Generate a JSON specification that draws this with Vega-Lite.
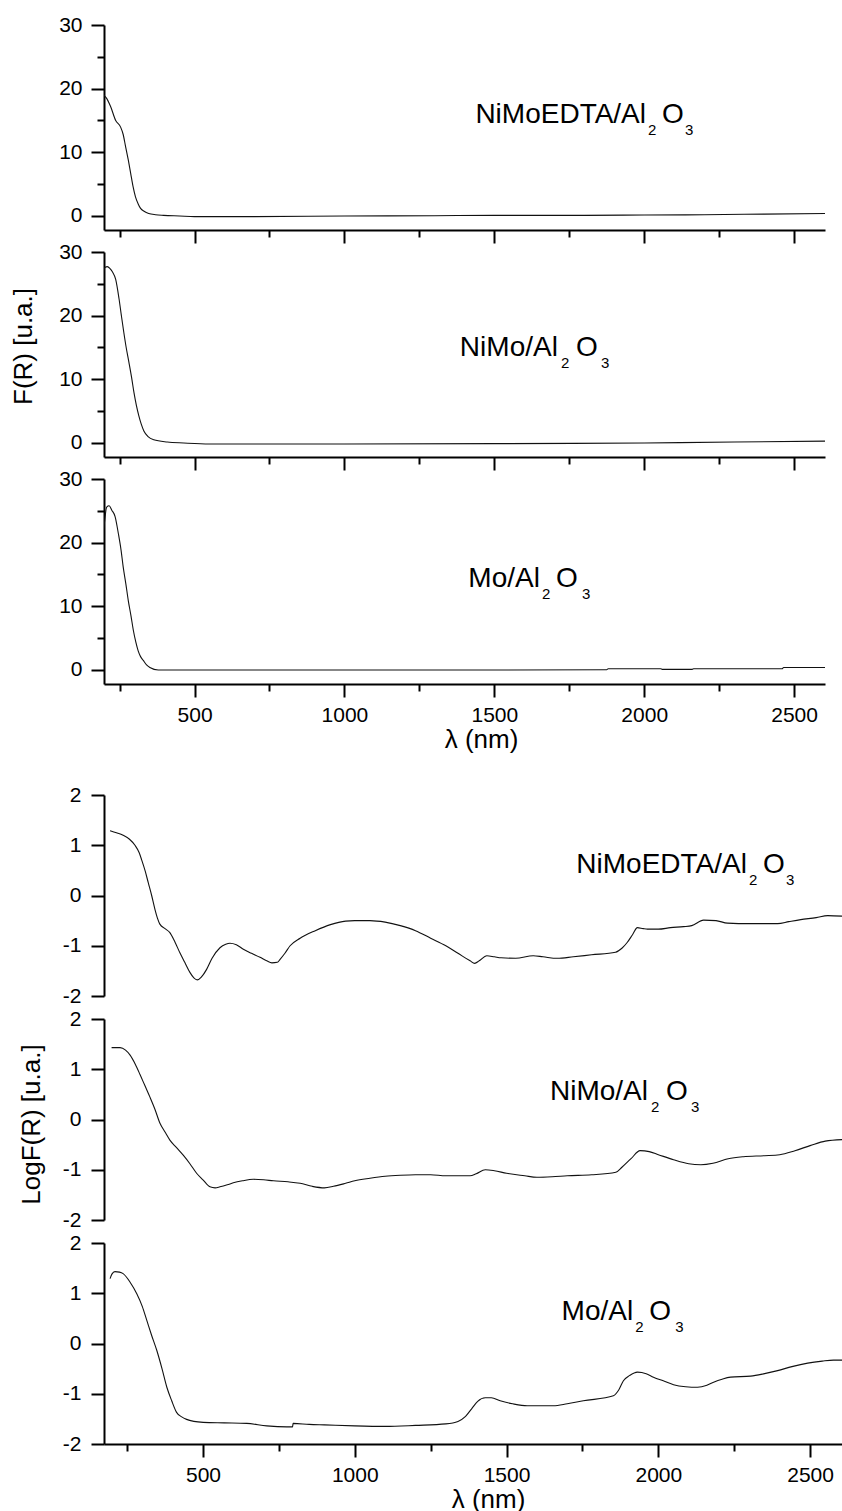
{
  "$schema": "https://vega.github.io/schema/vega-lite/v6.json",
  "padding": {"left": 10, "top": 14, "right": 0, "bottom": 0},
  "background": "white",
  "config": {
    "view": {"stroke": null},
    "axis": {
      "labelFont": "Liberation Sans", "labelFontSize": 21, "labelColor": "#000",
      "titleFont": "Liberation Sans", "titleFontSize": 26, "titleFontWeight": "normal", "titleColor": "#000",
      "domainColor": "#000", "domainWidth": 2, "tickColor": "#000", "tickWidth": 2,
      "grid": false, "labelFlush": false, "labelOverlap": false
    },
    "text": {"font": "Liberation Sans", "color": "#000"}
  },
  "datasets": {
    "fr": [
      {"s":"NiMoEDTA","wl":188,"v":18.8},{"s":"NiMoEDTA","wl":195,"v":19.0},{"s":"NiMoEDTA","wl":205,"v":18.6},{"s":"NiMoEDTA","wl":220,"v":17.2},{"s":"NiMoEDTA","wl":237,"v":15.0},{"s":"NiMoEDTA","wl":253,"v":14.0},{"s":"NiMoEDTA","wl":262,"v":12.8},{"s":"NiMoEDTA","wl":270,"v":10.9},{"s":"NiMoEDTA","wl":279,"v":8.8},{"s":"NiMoEDTA","wl":287,"v":6.7},{"s":"NiMoEDTA","wl":295,"v":4.6},{"s":"NiMoEDTA","wl":303,"v":3.0},{"s":"NiMoEDTA","wl":312,"v":1.9},{"s":"NiMoEDTA","wl":320,"v":1.2},{"s":"NiMoEDTA","wl":333,"v":0.7},{"s":"NiMoEDTA","wl":347,"v":0.4},{"s":"NiMoEDTA","wl":370,"v":0.2},{"s":"NiMoEDTA","wl":397,"v":0.1},{"s":"NiMoEDTA","wl":450,"v":0.0},{"s":"NiMoEDTA","wl":500,"v":-0.1},{"s":"NiMoEDTA","wl":700,"v":-0.1},{"s":"NiMoEDTA","wl":1000,"v":0.0},{"s":"NiMoEDTA","wl":1300,"v":0.05},{"s":"NiMoEDTA","wl":1500,"v":0.1},{"s":"NiMoEDTA","wl":1800,"v":0.1},{"s":"NiMoEDTA","wl":2000,"v":0.15},{"s":"NiMoEDTA","wl":2200,"v":0.2},{"s":"NiMoEDTA","wl":2400,"v":0.3},{"s":"NiMoEDTA","wl":2603,"v":0.4},
      {"s":"NiMo","wl":190,"v":24.6},{"s":"NiMo","wl":195,"v":26.5},{"s":"NiMo","wl":202,"v":27.6},{"s":"NiMo","wl":209,"v":27.7},{"s":"NiMo","wl":218,"v":27.4},{"s":"NiMo","wl":226,"v":26.9},{"s":"NiMo","wl":237,"v":25.7},{"s":"NiMo","wl":248,"v":22.7},{"s":"NiMo","wl":256,"v":20.0},{"s":"NiMo","wl":264,"v":17.4},{"s":"NiMo","wl":272,"v":15.0},{"s":"NiMo","wl":281,"v":12.7},{"s":"NiMo","wl":290,"v":10.3},{"s":"NiMo","wl":298,"v":7.9},{"s":"NiMo","wl":306,"v":5.9},{"s":"NiMo","wl":314,"v":4.3},{"s":"NiMo","wl":322,"v":3.0},{"s":"NiMo","wl":331,"v":1.9},{"s":"NiMo","wl":345,"v":1.0},{"s":"NiMo","wl":364,"v":0.5},{"s":"NiMo","wl":409,"v":0.15},{"s":"NiMo","wl":464,"v":0.0},{"s":"NiMo","wl":550,"v":-0.15},{"s":"NiMo","wl":1000,"v":-0.15},{"s":"NiMo","wl":1500,"v":-0.1},{"s":"NiMo","wl":2000,"v":0.0},{"s":"NiMo","wl":2300,"v":0.15},{"s":"NiMo","wl":2603,"v":0.3},
      {"s":"Mo","wl":190,"v":19.1},{"s":"Mo","wl":198,"v":22.5},{"s":"Mo","wl":207,"v":25.6},{"s":"Mo","wl":215,"v":25.8},{"s":"Mo","wl":224,"v":25.1},{"s":"Mo","wl":235,"v":24.1},{"s":"Mo","wl":246,"v":21.4},{"s":"Mo","wl":255,"v":18.8},{"s":"Mo","wl":262,"v":16.2},{"s":"Mo","wl":271,"v":13.5},{"s":"Mo","wl":279,"v":10.9},{"s":"Mo","wl":288,"v":8.5},{"s":"Mo","wl":296,"v":6.2},{"s":"Mo","wl":304,"v":4.4},{"s":"Mo","wl":312,"v":3.0},{"s":"Mo","wl":320,"v":2.1},{"s":"Mo","wl":329,"v":1.5},{"s":"Mo","wl":340,"v":0.8},{"s":"Mo","wl":351,"v":0.4},{"s":"Mo","wl":379,"v":0.0},{"s":"Mo","wl":500,"v":0.0},{"s":"Mo","wl":1000,"v":0.0},{"s":"Mo","wl":1500,"v":0.0},{"s":"Mo","wl":1875,"v":0.05},{"s":"Mo","wl":1880,"v":0.2},{"s":"Mo","wl":2055,"v":0.2},{"s":"Mo","wl":2060,"v":0.1},{"s":"Mo","wl":2160,"v":0.1},{"s":"Mo","wl":2165,"v":0.2},{"s":"Mo","wl":2460,"v":0.2},{"s":"Mo","wl":2465,"v":0.4},{"s":"Mo","wl":2603,"v":0.4}
    ],
    "lg": [
      {"s":"NiMoEDTA","wl":194,"v":1.29},{"s":"NiMoEDTA","wl":215,"v":1.25},{"s":"NiMoEDTA","wl":237,"v":1.2},{"s":"NiMoEDTA","wl":258,"v":1.12},{"s":"NiMoEDTA","wl":276,"v":1.0},{"s":"NiMoEDTA","wl":290,"v":0.85},{"s":"NiMoEDTA","wl":298,"v":0.71},{"s":"NiMoEDTA","wl":310,"v":0.48},{"s":"NiMoEDTA","wl":320,"v":0.25},{"s":"NiMoEDTA","wl":331,"v":0.0},{"s":"NiMoEDTA","wl":342,"v":-0.28},{"s":"NiMoEDTA","wl":350,"v":-0.45},{"s":"NiMoEDTA","wl":358,"v":-0.57},{"s":"NiMoEDTA","wl":375,"v":-0.66},{"s":"NiMoEDTA","wl":391,"v":-0.74},{"s":"NiMoEDTA","wl":408,"v":-0.93},{"s":"NiMoEDTA","wl":424,"v":-1.14},{"s":"NiMoEDTA","wl":440,"v":-1.33},{"s":"NiMoEDTA","wl":457,"v":-1.53},{"s":"NiMoEDTA","wl":470,"v":-1.64},{"s":"NiMoEDTA","wl":481,"v":-1.68},{"s":"NiMoEDTA","wl":495,"v":-1.62},{"s":"NiMoEDTA","wl":512,"v":-1.47},{"s":"NiMoEDTA","wl":530,"v":-1.25},{"s":"NiMoEDTA","wl":556,"v":-1.04},{"s":"NiMoEDTA","wl":575,"v":-0.97},{"s":"NiMoEDTA","wl":589,"v":-0.95},{"s":"NiMoEDTA","wl":610,"v":-0.98},{"s":"NiMoEDTA","wl":633,"v":-1.07},{"s":"NiMoEDTA","wl":660,"v":-1.15},{"s":"NiMoEDTA","wl":688,"v":-1.23},{"s":"NiMoEDTA","wl":710,"v":-1.3},{"s":"NiMoEDTA","wl":727,"v":-1.34},{"s":"NiMoEDTA","wl":745,"v":-1.33},{"s":"NiMoEDTA","wl":754,"v":-1.27},{"s":"NiMoEDTA","wl":770,"v":-1.15},{"s":"NiMoEDTA","wl":787,"v":-1.0},{"s":"NiMoEDTA","wl":820,"v":-0.85},{"s":"NiMoEDTA","wl":870,"v":-0.7},{"s":"NiMoEDTA","wl":920,"v":-0.58},{"s":"NiMoEDTA","wl":970,"v":-0.51},{"s":"NiMoEDTA","wl":1000,"v":-0.5},{"s":"NiMoEDTA","wl":1050,"v":-0.5},{"s":"NiMoEDTA","wl":1100,"v":-0.53},{"s":"NiMoEDTA","wl":1150,"v":-0.6},{"s":"NiMoEDTA","wl":1200,"v":-0.7},{"s":"NiMoEDTA","wl":1250,"v":-0.85},{"s":"NiMoEDTA","wl":1300,"v":-1.0},{"s":"NiMoEDTA","wl":1340,"v":-1.15},{"s":"NiMoEDTA","wl":1380,"v":-1.3},{"s":"NiMoEDTA","wl":1395,"v":-1.35},{"s":"NiMoEDTA","wl":1410,"v":-1.3},{"s":"NiMoEDTA","wl":1435,"v":-1.2},{"s":"NiMoEDTA","wl":1460,"v":-1.22},{"s":"NiMoEDTA","wl":1482,"v":-1.24},{"s":"NiMoEDTA","wl":1530,"v":-1.25},{"s":"NiMoEDTA","wl":1588,"v":-1.2},{"s":"NiMoEDTA","wl":1620,"v":-1.22},{"s":"NiMoEDTA","wl":1667,"v":-1.25},{"s":"NiMoEDTA","wl":1720,"v":-1.22},{"s":"NiMoEDTA","wl":1780,"v":-1.18},{"s":"NiMoEDTA","wl":1859,"v":-1.13},{"s":"NiMoEDTA","wl":1880,"v":-1.05},{"s":"NiMoEDTA","wl":1898,"v":-0.93},{"s":"NiMoEDTA","wl":1915,"v":-0.78},{"s":"NiMoEDTA","wl":1931,"v":-0.64},{"s":"NiMoEDTA","wl":1950,"v":-0.66},{"s":"NiMoEDTA","wl":1964,"v":-0.67},{"s":"NiMoEDTA","wl":2000,"v":-0.67},{"s":"NiMoEDTA","wl":2040,"v":-0.64},{"s":"NiMoEDTA","wl":2083,"v":-0.62},{"s":"NiMoEDTA","wl":2110,"v":-0.6},{"s":"NiMoEDTA","wl":2149,"v":-0.49},{"s":"NiMoEDTA","wl":2190,"v":-0.5},{"s":"NiMoEDTA","wl":2228,"v":-0.55},{"s":"NiMoEDTA","wl":2300,"v":-0.56},{"s":"NiMoEDTA","wl":2393,"v":-0.56},{"s":"NiMoEDTA","wl":2430,"v":-0.52},{"s":"NiMoEDTA","wl":2469,"v":-0.48},{"s":"NiMoEDTA","wl":2520,"v":-0.44},{"s":"NiMoEDTA","wl":2558,"v":-0.4},{"s":"NiMoEDTA","wl":2605,"v":-0.41},
      {"s":"NiMo","wl":199,"v":1.43},{"s":"NiMo","wl":227,"v":1.43},{"s":"NiMo","wl":245,"v":1.38},{"s":"NiMo","wl":260,"v":1.28},{"s":"NiMo","wl":277,"v":1.1},{"s":"NiMo","wl":293,"v":0.89},{"s":"NiMo","wl":309,"v":0.67},{"s":"NiMo","wl":325,"v":0.45},{"s":"NiMo","wl":342,"v":0.2},{"s":"NiMo","wl":358,"v":-0.07},{"s":"NiMo","wl":375,"v":-0.25},{"s":"NiMo","wl":391,"v":-0.41},{"s":"NiMo","wl":413,"v":-0.56},{"s":"NiMo","wl":435,"v":-0.71},{"s":"NiMo","wl":457,"v":-0.88},{"s":"NiMo","wl":479,"v":-1.07},{"s":"NiMo","wl":500,"v":-1.2},{"s":"NiMo","wl":523,"v":-1.34},{"s":"NiMo","wl":540,"v":-1.36},{"s":"NiMo","wl":556,"v":-1.34},{"s":"NiMo","wl":580,"v":-1.3},{"s":"NiMo","wl":600,"v":-1.26},{"s":"NiMo","wl":630,"v":-1.22},{"s":"NiMo","wl":666,"v":-1.19},{"s":"NiMo","wl":700,"v":-1.2},{"s":"NiMo","wl":732,"v":-1.22},{"s":"NiMo","wl":780,"v":-1.24},{"s":"NiMo","wl":820,"v":-1.27},{"s":"NiMo","wl":860,"v":-1.33},{"s":"NiMo","wl":900,"v":-1.36},{"s":"NiMo","wl":930,"v":-1.33},{"s":"NiMo","wl":970,"v":-1.27},{"s":"NiMo","wl":1000,"v":-1.22},{"s":"NiMo","wl":1050,"v":-1.17},{"s":"NiMo","wl":1100,"v":-1.13},{"s":"NiMo","wl":1150,"v":-1.11},{"s":"NiMo","wl":1200,"v":-1.1},{"s":"NiMo","wl":1250,"v":-1.1},{"s":"NiMo","wl":1300,"v":-1.12},{"s":"NiMo","wl":1380,"v":-1.12},{"s":"NiMo","wl":1400,"v":-1.08},{"s":"NiMo","wl":1430,"v":-1.0},{"s":"NiMo","wl":1460,"v":-1.02},{"s":"NiMo","wl":1500,"v":-1.07},{"s":"NiMo","wl":1560,"v":-1.12},{"s":"NiMo","wl":1600,"v":-1.15},{"s":"NiMo","wl":1650,"v":-1.14},{"s":"NiMo","wl":1700,"v":-1.12},{"s":"NiMo","wl":1780,"v":-1.1},{"s":"NiMo","wl":1860,"v":-1.05},{"s":"NiMo","wl":1880,"v":-0.95},{"s":"NiMo","wl":1910,"v":-0.78},{"s":"NiMo","wl":1940,"v":-0.62},{"s":"NiMo","wl":1970,"v":-0.64},{"s":"NiMo","wl":2000,"v":-0.7},{"s":"NiMo","wl":2050,"v":-0.8},{"s":"NiMo","wl":2100,"v":-0.88},{"s":"NiMo","wl":2140,"v":-0.9},{"s":"NiMo","wl":2180,"v":-0.87},{"s":"NiMo","wl":2230,"v":-0.78},{"s":"NiMo","wl":2280,"v":-0.74},{"s":"NiMo","wl":2350,"v":-0.72},{"s":"NiMo","wl":2400,"v":-0.7},{"s":"NiMo","wl":2450,"v":-0.62},{"s":"NiMo","wl":2500,"v":-0.52},{"s":"NiMo","wl":2550,"v":-0.43},{"s":"NiMo","wl":2605,"v":-0.4},
      {"s":"Mo","wl":194,"v":1.29},{"s":"Mo","wl":200,"v":1.38},{"s":"Mo","wl":210,"v":1.43},{"s":"Mo","wl":225,"v":1.42},{"s":"Mo","wl":237,"v":1.39},{"s":"Mo","wl":260,"v":1.22},{"s":"Mo","wl":282,"v":0.99},{"s":"Mo","wl":300,"v":0.74},{"s":"Mo","wl":315,"v":0.46},{"s":"Mo","wl":331,"v":0.16},{"s":"Mo","wl":348,"v":-0.14},{"s":"Mo","wl":365,"v":-0.5},{"s":"Mo","wl":381,"v":-0.87},{"s":"Mo","wl":397,"v":-1.14},{"s":"Mo","wl":413,"v":-1.37},{"s":"Mo","wl":430,"v":-1.46},{"s":"Mo","wl":446,"v":-1.51},{"s":"Mo","wl":470,"v":-1.55},{"s":"Mo","wl":501,"v":-1.57},{"s":"Mo","wl":570,"v":-1.58},{"s":"Mo","wl":644,"v":-1.59},{"s":"Mo","wl":710,"v":-1.64},{"s":"Mo","wl":776,"v":-1.66},{"s":"Mo","wl":795,"v":-1.66},{"s":"Mo","wl":797,"v":-1.59},{"s":"Mo","wl":850,"v":-1.61},{"s":"Mo","wl":900,"v":-1.62},{"s":"Mo","wl":1000,"v":-1.64},{"s":"Mo","wl":1100,"v":-1.65},{"s":"Mo","wl":1200,"v":-1.63},{"s":"Mo","wl":1300,"v":-1.6},{"s":"Mo","wl":1340,"v":-1.55},{"s":"Mo","wl":1365,"v":-1.45},{"s":"Mo","wl":1385,"v":-1.3},{"s":"Mo","wl":1405,"v":-1.15},{"s":"Mo","wl":1430,"v":-1.08},{"s":"Mo","wl":1450,"v":-1.08},{"s":"Mo","wl":1479,"v":-1.14},{"s":"Mo","wl":1520,"v":-1.2},{"s":"Mo","wl":1568,"v":-1.24},{"s":"Mo","wl":1654,"v":-1.24},{"s":"Mo","wl":1700,"v":-1.2},{"s":"Mo","wl":1753,"v":-1.14},{"s":"Mo","wl":1852,"v":-1.04},{"s":"Mo","wl":1870,"v":-0.92},{"s":"Mo","wl":1885,"v":-0.74},{"s":"Mo","wl":1905,"v":-0.64},{"s":"Mo","wl":1931,"v":-0.57},{"s":"Mo","wl":1960,"v":-0.6},{"s":"Mo","wl":1984,"v":-0.67},{"s":"Mo","wl":2020,"v":-0.75},{"s":"Mo","wl":2050,"v":-0.82},{"s":"Mo","wl":2090,"v":-0.86},{"s":"Mo","wl":2129,"v":-0.87},{"s":"Mo","wl":2160,"v":-0.83},{"s":"Mo","wl":2182,"v":-0.77},{"s":"Mo","wl":2210,"v":-0.71},{"s":"Mo","wl":2238,"v":-0.67},{"s":"Mo","wl":2304,"v":-0.65},{"s":"Mo","wl":2350,"v":-0.6},{"s":"Mo","wl":2393,"v":-0.54},{"s":"Mo","wl":2440,"v":-0.46},{"s":"Mo","wl":2492,"v":-0.39},{"s":"Mo","wl":2540,"v":-0.35},{"s":"Mo","wl":2577,"v":-0.33},{"s":"Mo","wl":2605,"v":-0.33}
    ],
    "lab": [
      {"g":"fr","s":"NiMoEDTA","wl":2006,"v":14.6,"main":"NiMoEDTA/Al"},
      {"g":"fr","s":"NiMo","wl":1712,"v":13.7,"main":"NiMo/Al"},
      {"g":"fr","s":"Mo","wl":1652,"v":13.0,"main":"Mo/Al"},
      {"g":"lg","s":"NiMoEDTA","wl":2292,"v":0.45,"main":"NiMoEDTA/Al"},
      {"g":"lg","s":"NiMo","wl":1966,"v":0.39,"main":"NiMo/Al"},
      {"g":"lg","s":"Mo","wl":1917,"v":0.47,"main":"Mo/Al"}
    ]
  },
  "concat": [
    {
      "vconcat": [
        {
          "width": 721, "height": 205,
          "encoding": {
            "x": {"field": "wl", "type": "quantitative", "scale": {"domain": [198, 2603], "nice": false, "zero": false},
                  "axis": {"values": [250,500,750,1000,1250,1500,1750,2000,2250,2500], "labels": false, "title": null,
                           "tickSize": {"condition": {"test": "datum.value % 500 !== 0", "value": 7}, "value": 13}}},
            "y": {"field": "v", "type": "quantitative", "scale": {"domain": [-2.2, 30], "nice": false, "zero": false},
                  "axis": {"values": [0,5,10,15,20,25,30], "title": null, "labelPadding": 9, "format": "d",
                           "labelExpr": "datum.value % 10 === 0 ? datum.label : ''",
                           "tickSize": {"condition": {"test": "datum.value % 10 !== 0", "value": 7}, "value": 13}}}
          },
          "layer": [
            {"data": {"name": "fr"}, "transform": [{"filter": "datum.s === 'NiMoEDTA'"}],
             "mark": {"type": "line", "color": "#111", "strokeWidth": 1.1, "interpolate": "monotone", "clip": true}},
            {"data": {"name": "lab"}, "transform": [{"filter": "datum.g === 'fr' && datum.s === 'NiMoEDTA'"}],
             "layer": [
               {"mark": {"type": "text", "align": "right", "baseline": "alphabetic", "fontSize": 28}, "encoding": {"text": {"field": "main"}}},
               {"mark": {"type": "text", "align": "left", "baseline": "alphabetic", "fontSize": 15, "text": "2", "dx": 2, "dy": 12}},
               {"mark": {"type": "text", "align": "left", "baseline": "alphabetic", "fontSize": 28, "text": "O", "dx": 16}},
               {"mark": {"type": "text", "align": "left", "baseline": "alphabetic", "fontSize": 15, "text": "3", "dx": 39, "dy": 12}}
             ]}
          ]
        },
        {
          "width": 721, "height": 205,
          "encoding": {
            "x": {"field": "wl", "type": "quantitative", "scale": {"domain": [198, 2603], "nice": false, "zero": false},
                  "axis": {"values": [250,500,750,1000,1250,1500,1750,2000,2250,2500], "labels": false, "title": null,
                           "tickSize": {"condition": {"test": "datum.value % 500 !== 0", "value": 7}, "value": 13}}},
            "y": {"field": "v", "type": "quantitative", "scale": {"domain": [-2.2, 30], "nice": false, "zero": false},
                  "axis": {"values": [0,5,10,15,20,25,30], "title": "F(R) [u.a.]", "titlePadding": 22, "titleY": 94, "labelPadding": 9, "format": "d",
                           "labelExpr": "datum.value % 10 === 0 ? datum.label : ''",
                           "tickSize": {"condition": {"test": "datum.value % 10 !== 0", "value": 7}, "value": 13}}}
          },
          "layer": [
            {"data": {"name": "fr"}, "transform": [{"filter": "datum.s === 'NiMo'"}],
             "mark": {"type": "line", "color": "#111", "strokeWidth": 1.1, "interpolate": "monotone", "clip": true}},
            {"data": {"name": "lab"}, "transform": [{"filter": "datum.g === 'fr' && datum.s === 'NiMo'"}],
             "layer": [
               {"mark": {"type": "text", "align": "right", "baseline": "alphabetic", "fontSize": 28}, "encoding": {"text": {"field": "main"}}},
               {"mark": {"type": "text", "align": "left", "baseline": "alphabetic", "fontSize": 15, "text": "2", "dx": 3, "dy": 12}},
               {"mark": {"type": "text", "align": "left", "baseline": "alphabetic", "fontSize": 28, "text": "O", "dx": 18}},
               {"mark": {"type": "text", "align": "left", "baseline": "alphabetic", "fontSize": 15, "text": "3", "dx": 43, "dy": 12}}
             ]}
          ]
        },
        {
          "width": 721, "height": 205,
          "encoding": {
            "x": {"field": "wl", "type": "quantitative", "scale": {"domain": [198, 2603], "nice": false, "zero": false},
                  "axis": {"values": [250,500,750,1000,1250,1500,1750,2000,2250,2500], "title": "λ (nm)", "titleX": 377, "labelPadding": 7, "titlePadding": 1, "format": "d",
                           "labelExpr": "datum.value % 500 === 0 ? datum.label : ''",
                           "tickSize": {"condition": {"test": "datum.value % 500 !== 0", "value": 7}, "value": 13}}},
            "y": {"field": "v", "type": "quantitative", "scale": {"domain": [-2.2, 30], "nice": false, "zero": false},
                  "axis": {"values": [0,5,10,15,20,25,30], "title": null, "labelPadding": 9, "format": "d",
                           "labelExpr": "datum.value % 10 === 0 ? datum.label : ''",
                           "tickSize": {"condition": {"test": "datum.value % 10 !== 0", "value": 7}, "value": 13}}}
          },
          "layer": [
            {"data": {"name": "fr"}, "transform": [{"filter": "datum.s === 'Mo'"}],
             "mark": {"type": "line", "color": "#111", "strokeWidth": 1.1, "interpolate": "monotone", "clip": true}},
            {"data": {"name": "lab"}, "transform": [{"filter": "datum.g === 'fr' && datum.s === 'Mo'"}],
             "layer": [
               {"mark": {"type": "text", "align": "right", "baseline": "alphabetic", "fontSize": 28}, "encoding": {"text": {"field": "main"}}},
               {"mark": {"type": "text", "align": "left", "baseline": "alphabetic", "fontSize": 15, "text": "2", "dx": 2, "dy": 12}},
               {"mark": {"type": "text", "align": "left", "baseline": "alphabetic", "fontSize": 28, "text": "O", "dx": 16}},
               {"mark": {"type": "text", "align": "left", "baseline": "alphabetic", "fontSize": 15, "text": "3", "dx": 42, "dy": 12}}
             ]}
          ]
        }
      ],
      "spacing": 22,
      "bounds": "flush"
    },
    {
      "vconcat": [
        {
          "width": 738, "height": 201,
          "encoding": {
            "x": {"field": "wl", "type": "quantitative", "scale": {"domain": [174, 2605], "nice": false, "zero": false}, "axis": null},
            "y": {"field": "v", "type": "quantitative", "scale": {"domain": [-2, 2], "nice": false, "zero": false},
                  "axis": {"values": [-2,-1.5,-1,-0.5,0,0.5,1,1.5,2], "title": null, "labelPadding": 10, "format": "d",
                           "labelExpr": "datum.value % 1 === 0 ? replace(datum.label, '−', '-') : ''",
                           "tickSize": {"condition": {"test": "datum.value % 1 !== 0", "value": 7}, "value": 13}}}
          },
          "layer": [
            {"data": {"name": "lg"}, "transform": [{"filter": "datum.s === 'NiMoEDTA'"}],
             "mark": {"type": "line", "color": "#111", "strokeWidth": 1.1, "interpolate": "monotone", "clip": true}},
            {"data": {"name": "lab"}, "transform": [{"filter": "datum.g === 'lg' && datum.s === 'NiMoEDTA'"}],
             "layer": [
               {"mark": {"type": "text", "align": "right", "baseline": "alphabetic", "fontSize": 28}, "encoding": {"text": {"field": "main"}}},
               {"mark": {"type": "text", "align": "left", "baseline": "alphabetic", "fontSize": 15, "text": "2", "dx": 2, "dy": 12}},
               {"mark": {"type": "text", "align": "left", "baseline": "alphabetic", "fontSize": 28, "text": "O", "dx": 16}},
               {"mark": {"type": "text", "align": "left", "baseline": "alphabetic", "fontSize": 15, "text": "3", "dx": 39, "dy": 12}}
             ]}
          ]
        },
        {
          "width": 738, "height": 201,
          "encoding": {
            "x": {"field": "wl", "type": "quantitative", "scale": {"domain": [174, 2605], "nice": false, "zero": false}, "axis": null},
            "y": {"field": "v", "type": "quantitative", "scale": {"domain": [-2, 2], "nice": false, "zero": false},
                  "axis": {"values": [-2,-1.5,-1,-0.5,0,0.5,1,1.5,2], "title": "LogF(R) [u.a.]", "titlePadding": 18, "titleY": 105, "labelPadding": 10, "format": "d",
                           "labelExpr": "datum.value % 1 === 0 ? replace(datum.label, '−', '-') : ''",
                           "tickSize": {"condition": {"test": "datum.value % 1 !== 0", "value": 7}, "value": 13}}}
          },
          "layer": [
            {"data": {"name": "lg"}, "transform": [{"filter": "datum.s === 'NiMo'"}],
             "mark": {"type": "line", "color": "#111", "strokeWidth": 1.1, "interpolate": "monotone", "clip": true}},
            {"data": {"name": "lab"}, "transform": [{"filter": "datum.g === 'lg' && datum.s === 'NiMo'"}],
             "layer": [
               {"mark": {"type": "text", "align": "right", "baseline": "alphabetic", "fontSize": 28}, "encoding": {"text": {"field": "main"}}},
               {"mark": {"type": "text", "align": "left", "baseline": "alphabetic", "fontSize": 15, "text": "2", "dx": 3, "dy": 12}},
               {"mark": {"type": "text", "align": "left", "baseline": "alphabetic", "fontSize": 28, "text": "O", "dx": 18}},
               {"mark": {"type": "text", "align": "left", "baseline": "alphabetic", "fontSize": 15, "text": "3", "dx": 43, "dy": 12}}
             ]}
          ]
        },
        {
          "width": 738, "height": 201,
          "encoding": {
            "x": {"field": "wl", "type": "quantitative", "scale": {"domain": [174, 2605], "nice": false, "zero": false},
                  "axis": {"values": [250,500,750,1000,1250,1500,1750,2000,2250,2500], "title": "λ (nm)", "titleX": 384, "labelPadding": 7, "titlePadding": 1, "format": "d",
                           "labelExpr": "datum.value % 500 === 0 ? datum.label : ''",
                           "tickSize": {"condition": {"test": "datum.value % 500 !== 0", "value": 7}, "value": 13}}},
            "y": {"field": "v", "type": "quantitative", "scale": {"domain": [-2, 2], "nice": false, "zero": false},
                  "axis": {"values": [-2,-1.5,-1,-0.5,0,0.5,1,1.5,2], "title": null, "labelPadding": 10, "format": "d",
                           "labelExpr": "datum.value % 1 === 0 ? replace(datum.label, '−', '-') : ''",
                           "tickSize": {"condition": {"test": "datum.value % 1 !== 0", "value": 7}, "value": 13}}}
          },
          "layer": [
            {"data": {"name": "lg"}, "transform": [{"filter": "datum.s === 'Mo'"}],
             "mark": {"type": "line", "color": "#111", "strokeWidth": 1.1, "interpolate": "monotone", "clip": true}},
            {"data": {"name": "lab"}, "transform": [{"filter": "datum.g === 'lg' && datum.s === 'Mo'"}],
             "layer": [
               {"mark": {"type": "text", "align": "right", "baseline": "alphabetic", "fontSize": 28}, "encoding": {"text": {"field": "main"}}},
               {"mark": {"type": "text", "align": "left", "baseline": "alphabetic", "fontSize": 15, "text": "2", "dx": 2, "dy": 12}},
               {"mark": {"type": "text", "align": "left", "baseline": "alphabetic", "fontSize": 28, "text": "O", "dx": 16}},
               {"mark": {"type": "text", "align": "left", "baseline": "alphabetic", "fontSize": 15, "text": "3", "dx": 42, "dy": 12}}
             ]}
          ]
        }
      ],
      "spacing": 23,
      "bounds": "flush"
    }
  ],
  "columns": 1,
  "spacing": 32
}
